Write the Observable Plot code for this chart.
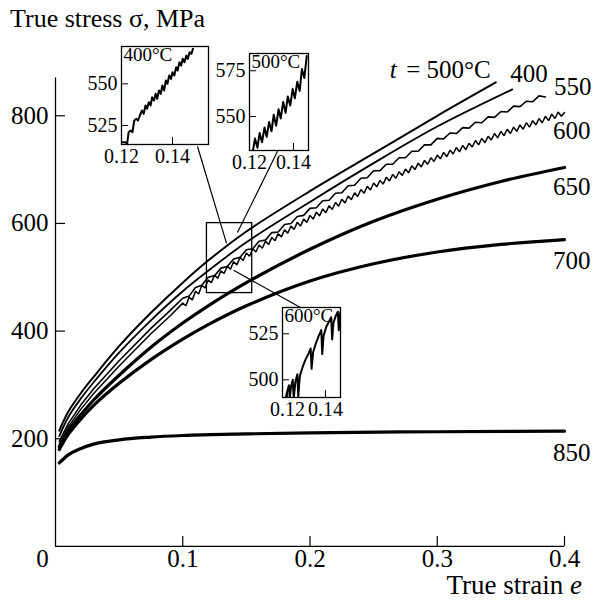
<!DOCTYPE html>
<html><head><meta charset="utf-8">
<script src="https://cdn.jsdelivr.net/npm/d3@7"></script>
<script src="https://cdn.jsdelivr.net/npm/@observablehq/plot@0.6"></script>
<style>
body{margin:0;background:#fff;}
#wrap{position:relative;width:594px;height:600px;font-family:"Liberation Serif","DejaVu Serif",serif;color:#000;}
.inset{position:absolute;}
.txt{position:absolute;white-space:nowrap;line-height:1;}
</style></head><body><div id="wrap"></div>
<script>
// ---- main curves: true strain vs true stress (MPa) at each temperature (°C)
const strain500 = [0.003,0.01,0.02,0.03,0.05,0.075,0.1,0.12,0.15,0.2,0.25,0.3,0.346];
const stress500 = [215,250,285,315,372,434,490,531,585,660,730,800,862];
const strain400 = [0.003,0.01,0.02,0.03,0.05,0.075,0.1,0.12,0.15,0.2,0.25,0.3,0.359];
const stress400 = [205,240,275,305,360,420,474,512,565,640,712,780,849];
const strain550 = [0.003,0.01,0.02,0.03,0.05,0.075,0.09,
  0.100,0.105,0.110,0.115,0.120,0.125,0.130,0.135,0.140,0.145,0.150,0.155,0.160,0.165,0.170,0.175,0.180,0.185,0.190,0.195,
  0.200,0.205,0.210,0.215,0.220,0.225,0.230,0.235,0.240,0.245,0.250,0.255,0.260,0.265,0.270,0.275,0.280,0.285,0.290,0.295,
  0.300,0.305,0.310,0.315,0.320,0.325,0.330,0.335,0.340,0.345,0.350,0.355,0.360,0.365,0.370,0.375,0.380,0.385];
const stress550 = [195,228,263,293,345,405,438,
  461,465,481,485,500,503,517,520,534,537,551,553,567,569,583,584,598,600,613,615,
  628,629,642,643,656,657,670,671,684,685,698,698,710,710,722,722,734,734,746,746,
  758,757,768,767,778,777,788,787,798,797,808,807,818,817,827,826,837,835];
const strain600 = [0.003,0.01,0.02,0.03,0.05,0.075,0.09,
  0.1000,0.1025,0.1050,0.1075,0.1100,0.1125,0.1150,0.1175,0.1200,0.1225,0.1250,0.1275,0.1300,0.1325,0.1350,0.1375,0.1400,0.1425,0.1450,0.1475,
  0.1500,0.1525,0.1550,0.1575,0.1600,0.1625,0.1650,0.1675,0.1700,0.1725,0.1750,0.1775,0.1800,0.1825,0.1850,0.1875,0.1900,0.1925,0.1950,0.1975,
  0.2000,0.2025,0.2050,0.2075,0.2100,0.2125,0.2150,0.2175,0.2200,0.2225,0.2250,0.2275,0.2300,0.2325,0.2350,0.2375,0.2400,0.2425,0.2450,0.2475,
  0.2500,0.2525,0.2550,0.2575,0.2600,0.2625,0.2650,0.2675,0.2700,0.2725,0.2750,0.2775,0.2800,0.2825,0.2850,0.2875,0.2900,0.2925,0.2950,0.2975,
  0.3000,0.3025,0.3050,0.3075,0.3100,0.3125,0.3150,0.3175,0.3200,0.3225,0.3250,0.3275,0.3300,0.3325,0.3350,0.3375,0.3400,0.3425,0.3450,0.3475,
  0.3500,0.3525,0.3550,0.3575,0.3600,0.3625,0.3650,0.3675,0.3700,0.3725,0.3750,0.3775,0.3800,0.3825,0.3850,0.3875,0.3900,0.3925,0.3950,0.3975,0.4000];
const stress600 = [190,222,255,284,335,395,428,
  452,447,463,458,474,469,485,480,495,490,504,498,512,507,521,515,529,523,537,531,
  545,539,553,547,560,554,567,561,574,568,581,575,588,582,595,589,602,595,608,602,
  615,608,621,614,627,620,633,626,639,632,645,638,651,644,657,650,663,656,669,662,
  675,668,680,673,686,679,691,684,696,689,701,694,707,700,712,705,717,710,722,715,
  727,720,732,724,736,729,741,733,745,737,749,742,754,746,758,750,762,755,767,759,
  771,763,775,767,779,771,783,775,787,779,791,783,795,787,799,791,803,795,807,799,806];
const strain650 = [0.003,0.01,0.02,0.03,0.05,0.075,0.1,0.12,0.15,0.2,0.25,0.3,0.35,0.4];
const stress650 = [185,215,245,272,318,370,415,447,490,552,604,645,678,704];
const strain700 = [0.003,0.01,0.02,0.03,0.05,0.075,0.1,0.12,0.15,0.2,0.25,0.3,0.35,0.4];
const stress700 = [180,208,237,262,303,347,385,412,447,493,525,547,561,570];
const strain850 = [0.003,0.01,0.02,0.03,0.05,0.075,0.1,0.15,0.2,0.3,0.4];
const stress850 = [155,170,182,190,198,203,206,209,211,213,214];

const xTicks = [0.1, 0.2, 0.3, 0.4];
const xZero = [0];
const yTicks = [200, 400, 600, 800];

// ---- insets (serrated flow, zoomed)
const in400Strain = [0.1200,0.1215,0.1222,0.1228,0.1236,0.1243,0.1250,0.1258,0.1265,0.1272,0.1280,0.1287,0.1294,0.1300,0.1307,0.1314,0.1320,0.1327,0.1334,0.1340,0.1347,0.1354,0.1360,0.1367,0.1374,0.1380,0.1387,0.1394,0.1400,0.1407,0.1414,0.1420,0.1427,0.1434,0.1440,0.1447,0.1454,0.1460,0.1467,0.1474,0.1480];
const in400Stress = [515,515,514,521,522,521,528,529,528,531,534,532,537,535,539,537,542,540,544,541,546,544,549,546,552,550,555,553,557,555,560,558,563,561,565,563,567,565,569,568,571];
const in500Strain = [0.1215,0.1225,0.1236,0.1246,0.1257,0.1268,0.1278,0.1289,0.1300,0.1310,0.1321,0.1332,0.1342,0.1353,0.1364,0.1374,0.1385,0.1396,0.1406,0.1417,0.1428,0.1438,0.1449,0.1460];
const in500Stress = [531,538,533,541,536,544,539,547,542,551,545,554,549,558,552,561,556,565,560,569,564,576,571,583];
const in600Strain = [0.1190,0.1200,0.1208,0.1212,0.1220,0.1228,0.1233,0.1242,0.1252,0.1257,0.1265,0.1280,0.1295,0.1310,0.1322,0.1327,0.1335,0.1350,0.1365,0.1378,0.1383,0.1390,0.1405,0.1420,0.1430,0.1435,0.1442,0.1455,0.1465,0.1470,0.1477,0.1485];
const in600Stress = [490,494,497,490,497,500,490,499,503,491,502,507,511,514,517,506,515,520,524,527,514,524,529,532,534,522,531,535,537,527,536,539];

// zoomed window on the main chart and the callout lines
const zoomBox = {x1: 0.119, x2: 0.1546, y1: 470.6, y2: 600.6};
const callouts = [
  {x1: 0.1344, y1: 563, x2: 0.1116, y2: 743},
  {x1: 0.1430, y1: 583, x2: 0.1745, y2: 734},
  {x1: 0.1399, y1: 513, x2: 0.1925, y2: 444}
];

const series = [
  {T: "500", e: strain500, s: stress500, w: 2, curve: "catmull-rom", label: "= 500°C", dx: -5, dy: -12, anchor: "end"},
  {T: "400", e: strain400, s: stress400, w: 1.8, curve: "catmull-rom", label: "400", dx: -2, dy: -15, anchor: "start"},
  {T: "550", e: strain550, s: stress550, w: 1.6, curve: "linear", label: "550", dx: 46, dy: -10, anchor: "end"},
  {T: "600", e: strain600, s: stress600, w: 1.5, curve: "linear", label: "600", dx: 26, dy: 18, anchor: "end"},
  {T: "650", e: strain650, s: stress650, w: 3.2, curve: "catmull-rom", label: "650", dx: 26, dy: 20, anchor: "end"},
  {T: "700", e: strain700, s: stress700, w: 3.2, curve: "catmull-rom", label: "700", dx: 26, dy: 21, anchor: "end"},
  {T: "850", e: strain850, s: stress850, w: 3.2, curve: "monotone-x", label: "850", dx: 26, dy: 22, anchor: "end"}
];

const font = '"Liberation Serif","DejaVu Serif",serif';
const marks = [
  Plot.ruleX([0], {stroke: "black", strokeWidth: 1.3}),
  Plot.ruleY([0], {stroke: "black", strokeWidth: 1.3}),
  Plot.axisY(yTicks, {tickSize: -10, tickPadding: 17, fontSize: 25, label: null, strokeWidth: 1.2}),
  Plot.axisX(xTicks, {tickSize: -10, tickPadding: 13, fontSize: 25, label: null, strokeWidth: 1.2, tickFormat: d => d.toFixed(1)}),
  Plot.axisX(xZero, {tickSize: 0, tickPadding: 3, dx: -13, fontSize: 25, label: null, tickFormat: d => String(d)}),
  Plot.link(callouts, {x1: "x1", y1: "y1", x2: "x2", y2: "y2", stroke: "black", strokeWidth: 1.2}),
  Plot.rect([zoomBox], {x1: "x1", x2: "x2", y1: "y1", y2: "y2", fill: "none", stroke: "black", strokeWidth: 1.3})
];
for (const sr of series) {
  const rows = sr.e.map((e, i) => ({e, s: sr.s[i]}));
  marks.push(Plot.line(rows, {x: "e", y: "s", stroke: "black", strokeWidth: sr.w, curve: sr.curve, strokeLinejoin: "miter"}));
  const last = rows[rows.length - 1];
  marks.push(Plot.text([last], {x: "e", y: "s", text: () => sr.label, dx: sr.dx, dy: sr.dy,
    textAnchor: sr.anchor, lineAnchor: "middle", fontSize: 25}));
  if (sr.T === "500") {
    marks.push(Plot.text([last], {x: "e", y: "s", text: () => "t", dx: sr.dx - 94, dy: sr.dy,
      textAnchor: "end", lineAnchor: "middle", fontSize: 25, fontStyle: "italic"}));
  }
}

const main = Plot.plot({
  width: 594, height: 600,
  marginLeft: 55, marginRight: 30, marginTop: 77.6, marginBottom: 54.1,
  x: {domain: [0, 0.4], label: null},
  y: {domain: [0, 870], label: null},
  style: {fontFamily: font, color: "#000", background: "#fff", overflow: "visible"},
  marks
});
const wrap = document.getElementById("wrap");
wrap.appendChild(main);

// axis titles
const t1 = document.createElement("div");
t1.className = "txt"; t1.style.cssText = "left:10px;top:6px;font-size:26px;";
t1.textContent = "True stress σ, MPa";
wrap.appendChild(t1);
const t2 = document.createElement("div");
t2.className = "txt"; t2.style.cssText = "right:12px;top:572px;font-size:27px;";
t2.innerHTML = "True strain <i>e</i>";
wrap.appendChild(t2);

// insets
function inset(cfg) {
  const mL = 46, mR = 3, mT = 3, mB = 30;
  const rows = cfg.e.map((e, i) => ({e, s: cfg.s[i]}));
  const p = Plot.plot({
    width: mL + cfg.w + mR, height: mT + cfg.h + mB,
    marginLeft: mL, marginRight: mR, marginTop: mT, marginBottom: mB,
    x: {domain: cfg.xd, label: null},
    y: {domain: cfg.yd, label: null},
    style: {fontFamily: font, color: "#000", background: "transparent", overflow: "visible"},
    marks: [
      Plot.frame({fill: "white", stroke: null}),
      Plot.line(rows, {x: "e", y: "s", stroke: "black", strokeWidth: 2, clip: true}),
      Plot.axisY(cfg.yt, {tickSize: -7, tickPadding: 11, fontSize: 20, label: null}),
      Plot.axisX(cfg.xt, {tickSize: -7, tickPadding: 11, fontSize: 20, label: null}),
      Plot.text([cfg.label], {frameAnchor: "top-left", dx: 2, dy: 1, lineAnchor: "top", textAnchor: "start", fontSize: 19}),
      Plot.frame({stroke: "black", strokeWidth: 1.3})
    ]
  });
  const d = document.createElement("div");
  d.className = "inset";
  d.style.left = (cfg.left - mL) + "px";
  d.style.top = (cfg.top - mT) + "px";
  d.appendChild(p);
  wrap.appendChild(d);
}
inset({label: "400°C", e: in400Strain, s: in400Stress, xd: [0.12, 0.1541], yd: [513.6, 572.4], xt: [0.12, 0.14], yt: [525, 550], left: 121, top: 46, w: 87, h: 98});
inset({label: "500°C", e: in500Strain, s: in500Stress, xd: [0.12, 0.1468], yd: [531.5, 584.4], xt: [0.12, 0.14], yt: [550, 575], left: 249, top: 53, w: 59, h: 97});
inset({label: "600°C", e: in600Strain, s: in600Stress, xd: [0.1174, 0.1479], yd: [490.4, 539.3], xt: [0.12, 0.14], yt: [500, 525], left: 282, top: 307, w: 58, h: 90});
</script></body></html>
